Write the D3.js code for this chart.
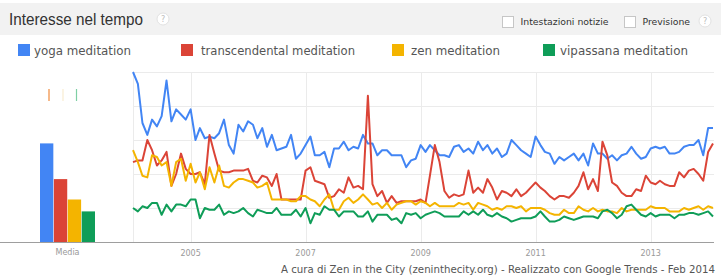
<!DOCTYPE html>
<html>
<head>
<meta charset="utf-8">
<script src="https://cdn.jsdelivr.net/npm/d3@7"></script>
<style>
  html, body { margin: 0; padding: 0; background: #fff; }
  svg { display: block; }
</style>
</head>
<body>
<div id="chart"></div>
<script>
// ---------- DATA ----------
const seriesNames = ["yoga meditation", "transcendental meditation", "zen meditation", "vipassana meditation"];
const seriesColors = ["#4285f4", "#db4437", "#f4b400", "#0f9d58"];
const startMonth = new Date(2004, 0, 1);
const endMonth = new Date(2014, 1, 1);
const yearTicks = [2005, 2007, 2009, 2011, 2013];
const yTicks = [20, 40, 60, 80, 100];
const averages = [58, 37, 25, 18];
const avgLabel = "Media";

const yoga = [100, 93, 70, 63, 72, 68, 74, 95, 71, 78, 75, 72, 78, 60, 67, 61, 62, 61, 64, 72, 57, 52, 69, 65, 71,
  69, 61, 67, 56, 63, 54, 55, 56, 63, 49, 52, 57, 62, 51, 51, 53, 44, 55, 55, 59, 54, 56, 55, 63,
  58, 58, 51, 54, 54, 51, 51, 51, 44, 48, 49, 57, 53, 57, 54, 51, 51, 50, 56, 57, 53, 55, 52, 59,
  54, 57, 52, 55, 50, 52, 60, 57, 54, 52, 50, 62, 57, 53, 52, 46, 50, 48, 50, 52, 48, 52, 45, 58,
  52, 52, 49, 51, 48, 51, 52, 56, 52, 49, 50, 55, 56, 55, 56, 52, 52, 53, 56, 57, 57, 60, 51, 67, 67];
const transcendental = [47, 48, 48, 60, 54, 45, 48, 53, 33, 40, 52, 43, 40, 40, 41, 34, 63, 52, 42, 41, 41, 42, 42, 42, 43,
  36, 35, 39, 38, 33, 40, 25, 25, 25, 25, 25, 42, 44, 36, 35, 34, 26, 27, 31, 29, 38, 32, 33, 31,
  86, 34, 27, 30, 23, 27, 23, 24, 24, 24, 24, 25, 23, 39, 57, 47, 30, 26, 28, 27, 28, 42, 29, 32,
  29, 37, 32, 25, 30, 29, 27, 31, 27, 29, 32, 35, 32, 30, 27, 25, 27, 27, 26, 29, 33, 41, 31, 37,
  30, 59, 51, 35, 33, 29, 27, 27, 31, 30, 39, 35, 34, 36, 34, 33, 33, 41, 38, 42, 43, 40, 36, 53, 58];
const zen = [54, 47, 39, 38, 51, 50, 45, 47, 33, 47, 49, 36, 46, 35, 41, 31, 44, 35, 45, 33, 32, 35, 37, 37, 36,
  35, 32, 33, 35, 25, 25, 25, 25, 24, 24, 27, 27, 25, 24, 21, 25, 28, 19, 19, 24, 26, 23, 25, 28,
  25, 22, 23, 20, 23, 19, 22, 23, 24, 24, 22, 24, 23, 21, 23, 21, 21, 21, 21, 23, 22, 23, 19, 23,
  22, 21, 19, 20, 19, 21, 21, 20, 21, 18, 20, 20, 20, 19, 17, 16, 16, 19, 17, 17, 21, 19, 18, 20,
  18, 19, 18, 18, 17, 20, 18, 19, 19, 19, 19, 21, 20, 20, 20, 18, 18, 18, 20, 19, 20, 21, 19, 21, 20];
const vipassana = [20, 18, 21, 20, 23, 23, 16, 22, 18, 22, 22, 21, 25, 25, 14, 20, 19, 19, 22, 16, 18, 17, 18, 20, 17,
  15, 19, 18, 17, 17, 20, 16, 16, 16, 19, 15, 20, 11, 17, 16, 21, 19, 19, 15, 18, 18, 18, 15, 15,
  18, 12, 16, 16, 16, 13, 14, 11, 17, 16, 17, 14, 16, 17, 18, 17, 15, 15, 15, 15, 18, 16, 18, 16,
  19, 16, 15, 17, 15, 14, 12, 13, 14, 14, 14, 15, 18, 15, 12, 12, 13, 15, 14, 13, 14, 15, 15, 15,
  14, 18, 19, 17, 14, 16, 21, 22, 19, 16, 15, 17, 15, 16, 16, 16, 14, 16, 16, 17, 17, 16, 17, 18, 15];
const seriesValues = [yoga, transcendental, zen, vipassana];

const titleText = "Interesse nel tempo";
const newsText = "Intestazioni notizie";
const forecastText = "Previsione";
const footerText = "A cura di Zen in the City (zeninthecity.org) - Realizzato con Google Trends - Feb 2014";

// ---------- LAYOUT ----------
const W = 721, H = 280;
const svg = d3.select("#chart").append("svg").attr("width", W).attr("height", H);

const months = d3.timeMonth.range(startMonth, d3.timeMonth.offset(endMonth, 1));
const x = d3.scaleTime().domain([startMonth, endMonth]).range([133, 713]);
const y = d3.scaleLinear().domain([0, 100]).range([242, 72]);

// header band
svg.append("rect").attr("x", 0).attr("y", 3).attr("width", W).attr("height", 32).attr("fill", "#f2f2f2");
svg.append("text").attr("x", 9).attr("y", 25).text(titleText)
  .attr("font-family", "Liberation Sans, Arial, sans-serif").attr("font-size", 16.5)
  .attr("fill", "#333").attr("textLength", 134).attr("lengthAdjust", "spacingAndGlyphs");
function helpIcon(cx, cy) {
  svg.append("circle").attr("cx", cx).attr("cy", cy).attr("r", 6).attr("fill", "#fff").attr("stroke", "#e2e2e2");
  svg.append("text").attr("x", cx).attr("y", cy + 3).attr("text-anchor", "middle").text("?")
    .attr("font-family", "DejaVu Sans, sans-serif").attr("font-size", 8).attr("fill", "#bbb");
}
helpIcon(163, 19);
helpIcon(705, 21);
function checkbox(bx, label, tx, len) {
  svg.append("rect").attr("x", bx + 0.5).attr("y", 16.5).attr("width", 11).attr("height", 11)
    .attr("fill", "#fff").attr("stroke", "#c6c6c6");
  svg.append("text").attr("x", tx).attr("y", 25).text(label)
    .attr("font-family", "DejaVu Sans, Verdana, sans-serif").attr("font-size", 9.5).attr("fill", "#333")
    .attr("textLength", len).attr("lengthAdjust", "spacingAndGlyphs");
}
checkbox(502, newsText, 520.5, 88);
checkbox(624, forecastText, 642.5, 47.5);

// legend
const legendBox = [18, 181, 392, 543];
const legendText = [34, 201, 411, 560];
const legendLen = [97, 154, 89, 128];
seriesNames.forEach((n, i) => {
  svg.append("rect").attr("x", legendBox[i]).attr("y", 44).attr("width", 12).attr("height", 12).attr("fill", seriesColors[i]);
  svg.append("text").attr("x", legendText[i]).attr("y", 55).text(n)
    .attr("font-family", "DejaVu Sans, Verdana, sans-serif").attr("font-size", 12.5).attr("fill", "#555")
    .attr("textLength", legendLen[i]).attr("lengthAdjust", "spacingAndGlyphs");
});

// gridlines
const grid = svg.append("g");
grid.selectAll("line.h").data(yTicks).join("line")
  .attr("x1", 133).attr("x2", 714).attr("y1", d => y(d) + 0.5).attr("y2", d => y(d) + 0.5)
  .attr("stroke", "#ebebeb").attr("stroke-width", 1);
grid.selectAll("line.v").data([startMonth].concat(yearTicks.map(yr => new Date(yr, 0, 1)))).join("line")
  .attr("x1", d => Math.round(x(d)) + 0.5).attr("x2", d => Math.round(x(d)) + 0.5)
  .attr("y1", y(100)).attr("y2", y(0))
  .attr("stroke", "#ebebeb").attr("stroke-width", 1);

// bottom axis line
svg.append("line").attr("x1", 0).attr("x2", 714).attr("y1", 242.5).attr("y2", 242.5)
  .attr("stroke", "#9e9e9e").attr("stroke-width", 1);

// year labels
svg.selectAll("text.year").data(yearTicks).join("text")
  .attr("x", d => x(new Date(d, 0, 1))).attr("y", 256).attr("text-anchor", "middle")
  .text(d => d).attr("font-family", "DejaVu Sans, sans-serif").attr("font-size", 8).attr("fill", "#999");

// average bars
const xb = d3.scaleBand().domain(seriesNames).range([40, 95]).paddingInner(0.04);
svg.selectAll("rect.avg").data(averages).join("rect")
  .attr("x", (d, i) => xb(seriesNames[i])).attr("width", xb.bandwidth())
  .attr("y", d => y(d)).attr("height", d => y(0) - y(d))
  .attr("fill", (d, i) => seriesColors[i]);
svg.append("text").attr("x", 67.5).attr("y", 255).attr("text-anchor", "middle").text(avgLabel)
  .attr("font-family", "DejaVu Sans, sans-serif").attr("font-size", 8).attr("fill", "#999");

// small markers above bars
const markers = [[49, "#f08a3c"], [63, "#f8ecd0"], [76.5, "#7fcfa4"]];
markers.forEach(m => {
  svg.append("line").attr("x1", m[0]).attr("x2", m[0]).attr("y1", 89).attr("y2", 101)
    .attr("stroke", m[1]).attr("stroke-width", 1.2);
});

// lines
const line = d3.line().x((d, i) => x(months[i])).y(d => y(d));
seriesValues.forEach((vals, i) => {
  svg.append("path").datum(vals).attr("d", line).attr("fill", "none")
    .attr("stroke", seriesColors[i]).attr("stroke-width", 2).attr("stroke-linejoin", "round");
});

// footer
svg.append("text").attr("x", 281).attr("y", 273).text(footerText)
  .attr("font-family", "DejaVu Sans, Verdana, sans-serif").attr("font-size", 10).attr("fill", "#555")
  .attr("textLength", 434).attr("lengthAdjust", "spacingAndGlyphs");
</script>
</body>
</html>
